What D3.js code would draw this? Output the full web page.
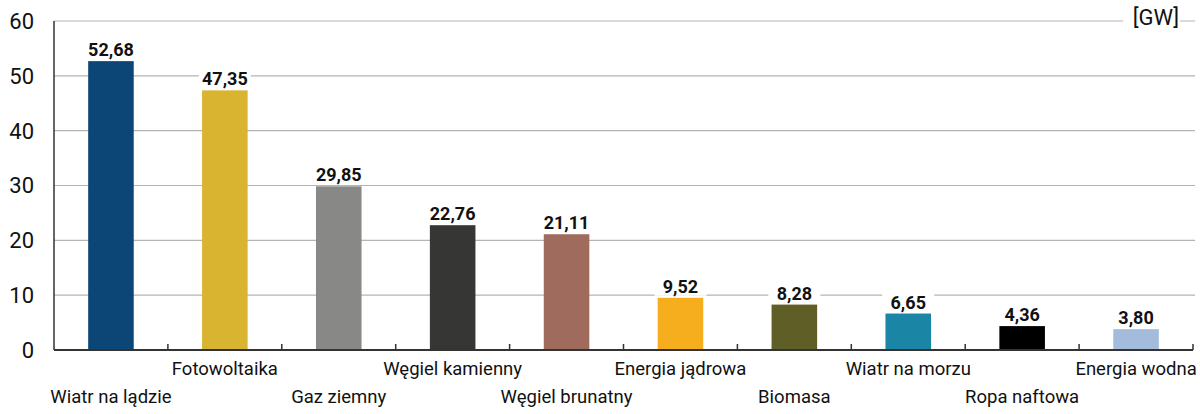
<!DOCTYPE html>
<html>
<head>
<meta charset="utf-8">
<script src="https://cdn.jsdelivr.net/npm/d3@7"></script>
<style>
  body { margin: 0; background: #fff; }
  svg { display: block; font-family: Roboto, sans-serif; }
</style>
</head>
<body>
<svg id="chart"></svg>
<script>
const categories = ["Wiatr na lądzie", "Fotowoltaika", "Gaz ziemny", "Węgiel kamienny", "Węgiel brunatny",
  "Energia jądrowa", "Biomasa", "Wiatr na morzu", "Ropa naftowa", "Energia wodna"];
const values = [52.68, 47.35, 29.85, 22.76, 21.11, 9.52, 8.28, 6.65, 4.36, 3.80];
const colors = ["#0b4677", "#d9b430", "#888886", "#363635", "#9e6b5c",
  "#f6ae1f", "#5e5e26", "#1a85a5", "#000000", "#a3bcdc"];
const yTicks = [0, 10, 20, 30, 40, 50, 60];
const unit = "[GW]";

const W = 1200, H = 414;
const margin = { top: 21, right: 7, bottom: 64, left: 54 };
const width = W - margin.left - margin.right;
const height = H - margin.top - margin.bottom;

const svg = d3.select('#chart').attr('width', W).attr('height', H);
const main = svg.append('g').attr('transform', `translate(${margin.left},${margin.top})`);

const x = d3.scaleBand().domain(categories).range([0, width]).paddingInner(0.6).paddingOuter(0.3);
const band = width / categories.length;
const y = d3.scaleLinear().domain([0, 60]).range([height, 0]);

// gridlines
main.append('g')
  .selectAll('line')
  .data(yTicks.filter(d => d > 0))
  .enter().append('line')
    .attr('x1', 0).attr('x2', width + 2)
    .attr('y1', d => y(d)).attr('y2', d => y(d))
    .attr('stroke', '#b4b4b4').attr('stroke-width', 1.2);

// y axis labels
main.append('g')
  .selectAll('text')
  .data(yTicks)
  .enter().append('text')
    .attr('x', -20).attr('y', d => y(d))
    .attr('dy', '0.36em')
    .attr('text-anchor', 'end')
    .attr('font-size', 22)
    .attr('fill', '#111')
    .text(d => d);

// unit label with white backing
const unitG = main.append('g').attr('transform', `translate(${width - 10},${y(60)})`);
unitG.append('rect').attr('x', -60).attr('y', -14).attr('width', 57).attr('height', 26).attr('fill', '#fff');
unitG.append('text')
  .attr('x', -4).attr('y', -4).attr('dy', '0.36em')
  .attr('text-anchor', 'end')
  .attr('font-size', 22)
  .attr('fill', '#111')
  .text(unit);

// bars
main.append('g')
  .selectAll('rect')
  .data(values)
  .enter().append('rect')
    .attr('x', (d, i) => x(categories[i]))
    .attr('y', d => y(d))
    .attr('width', x.bandwidth())
    .attr('height', d => height - y(d))
    .attr('fill', (d, i) => colors[i]);

// value labels with white backing
const vl = main.append('g')
  .selectAll('g')
  .data(values)
  .enter().append('g')
    .attr('transform', (d, i) => `translate(${x(categories[i]) + x.bandwidth() / 2},${y(d) - 5})`);
vl.append('rect')
  .attr('x', -26).attr('y', -16).attr('width', 52).attr('height', 19)
  .attr('fill', '#fff');
vl.append('text')
  .attr('text-anchor', 'middle')
  .attr('font-size', 18)
  .attr('font-weight', 'bold')
  .attr('fill', '#111')
  .text(d => d.toFixed(2).replace('.', ','));

// axes lines
main.append('line')
  .attr('x1', 0).attr('x2', 0).attr('y1', 0).attr('y2', height)
  .attr('stroke', '#333').attr('stroke-width', 1.5);
main.append('line')
  .attr('x1', 0).attr('x2', width).attr('y1', height).attr('y2', height)
  .attr('stroke', '#333').attr('stroke-width', 2);

// band boundary ticks
main.append('g')
  .selectAll('line')
  .data(d3.range(1, categories.length + 1))
  .enter().append('line')
    .attr('x1', i => i * band).attr('x2', i => i * band)
    .attr('y1', height - 6).attr('y2', height)
    .attr('stroke', '#333').attr('stroke-width', 1.5);

// category labels, staggered
main.append('g')
  .selectAll('text')
  .data(categories)
  .enter().append('text')
    .attr('x', d => x(d) + x.bandwidth() / 2)
    .attr('y', (d, i) => height + (i % 2 === 0 ? 53 : 25))
    .attr('text-anchor', 'middle')
    .attr('font-size', 18.5)
    .attr('fill', '#111')
    .text(d => d);
</script>
</body>
</html>
